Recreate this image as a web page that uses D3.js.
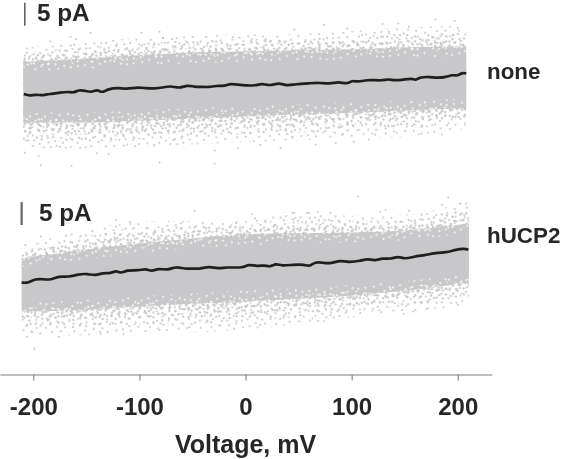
<!DOCTYPE html>
<html><head><meta charset="utf-8">
<script src="https://cdn.jsdelivr.net/npm/d3@7/dist/d3.min.js"></script>
<style>html,body{margin:0;background:#fff}svg{display:block}text{font-family:"Liberation Sans",Arial,sans-serif;font-weight:700;fill:#262626}</style>
</head><body><div id="c"></div>
<script>
// Mean current traces (voltage mV, relative current pA)
const noneV=[-209,-204,-199,-192,-187,-178,-168,-164,-159,-154,-149,-143,-140,-135,-123,-118,-103,-97,-88,-82,-73,-65,-57,-51,-43,-37,-31,-22,-18,-6,10,14,22,31,38,47,63,72,83,92,99,104,109,117,134,139,145,153,162,164,167,178,182,193,198,202,205,208];
const noneI=[-1.52,-2.1,-1.74,-2.03,-1.59,-1.37,-.94,-1.45,-.5,-.8,-1.37,-.43,-1.59,-.36,-.07,-.5,.07,-.36,-.36,-.22,.36,-.5,.5,-.07,-.07,-.22,.22,.07,.8,.22,.07,.8,-.07,.94,-.07,.43,.65,.8,.36,1.09,.22,1.38,.8,1.52,1.16,1.67,1.16,1.38,1.81,1.09,2.1,2.1,1.74,1.96,2.68,2.25,3.19,2.97];
const hucpV=[-211,-205,-199,-191,-185,-177,-168,-157,-149,-141,-135,-127,-123,-119,-115,-102,-96,-91,-85,-76,-68,-60,-52,-46,-37,-28,-20,-1,2,11,17,22,27,31,44,55,59,63,72,78,88,94,108,114,120,128,135,142,148,157,168,178,195,198,208,210];
const hucpI=[-3.62,-3.77,-2.54,-2.75,-3.04,-1.88,-2.32,-1.45,-1.38,-2.03,-1.16,-1.45,-.58,-1.59,-.51,-.8,-.22,-1.16,-.22,-.87,.22,-.58,-.43,-.72,.14,-.72,-.22,-.58,.58,-.22,.22,-.51,.58,-.22,.14,.14,-.58,.87,.43,.22,1.16,.43,.87,1.52,.72,1.59,1.16,2.03,1.09,1.81,2.17,2.75,3.04,3.62,3.91,3.55];
// Noise cloud envelopes
const noneCloudV=[-209.5,-150,-100,-50,0,50,100,150,208];
const hucpCloudV=[-211,-150,-100,-50,0,50,100,150,210.5];
const noneCoreHi=[5.5,6.2,6.9,7.5,7.7,8.0,8.2,8.6,8.8];
const noneCoreLo=[-7.7,-7.7,-7.3,-6.9,-6.4,-6.0,-5.6,-5.1,-4.7];
const noneEdgeHi=[8.5,9.8,10.7,11.2,11.4,11.6,12.2,12.9,13.5];
const noneEdgeLo=[-13.5,-13.5,-13.1,-12.5,-12,-11.6,-11.2,-10.7,-9];
const hucpCoreHi=[1.7,3.6,4.9,6.0,6.9,7.1,7.3,7.7,9.3];
const hucpCoreLo=[-9.9,-9.5,-8.8,-8.2,-7.7,-7.1,-6.4,-5.4,-3.6];
const hucpEdgeHi=[4.6,7.7,9.8,9.8,9.8,12,10.9,11.2,14.2];
const hucpEdgeLo=[-15.1,-15.1,-14.4,-14.4,-13.8,-12.7,-11.2,-10.1,-8.5];
// Isolated outlying samples
const noneOutV=[-165,-160,-146,-98,-81,-184,-136,-78,-65,-56,-31,-12,6,19,-208,-195,-193,-164,-140,-129,-81,-29,-29,-7,14,-104,-86,-175,-68,46,74,96,129,144,154,179,197,200,110,135,33,66,85,102,116,44,91,122,140,166,185,132];
const noneOutI=[10.9,10.4,11.8,11.8,12,9.9,9.5,10.6,10.6,9.9,9.9,10.8,10.4,10.4,-14.3,-15,-17,-17.2,-14.4,-14.6,-16.4,-16.7,-13.8,-13.3,-12.6,-12.8,-12.6,-13,-11.5,12.5,13.5,12.7,13.7,13.8,13.1,14.7,14.4,12.8,11.3,12,-13.3,-12.5,-12.2,-11.9,-11.4,-10.8,-10.4,-10.4,-9.7,-10.1,-10.4,-9];
const hucpOutV=[-48,6,9,-61,-109,-122,-193,-122,-37,-9,19,28,-199,-176,-206,-201,-137,-115,-81,-53,-25,14,-9,-36,106,191,202,208,185,80,46,60,68,127,132,154,63,74,80,38,149,158,200,172,126];
const hucpOutI=[12,11.3,10.4,9.3,9.6,10,6.4,8.6,8.2,9.3,9.6,8.9,-18,-15.4,-15.4,-14.3,-14.3,-14.8,-13.9,-13.3,-12.8,-12.8,-12.5,-12.1,15.1,14.9,13.6,13.6,13.3,11.6,11.6,11.6,11.8,11.8,12.2,12,-11.4,-12,-10.7,-10.3,-10.4,-9.9,-8.5,-9.2,-9.6];
const xTicks=[-200,-100,0,100,200];

const W=561,H=459,GRAY="#c8c8ca";
const svg=d3.select("#c").append("svg").attr("width",W).attr("height",H).style("filter","blur(0.35px)");
const x=d3.scaleLinear().domain([-231.4,232]).range([0,491.7]);
const yNone=d3.scaleLinear().domain([-10,10]).range([133,41]);
const yHucp=d3.scaleLinear().domain([-10,10]).range([312,220]);

// stipple texture for the speckled fringe (purely a fill style, not data)
const tile=[[2,3],[9,1],[15,6],[23,2],[31,5],[37,1],[5,10],[12,12],[20,9],[27,11],[35,9],[1,16],[8,18],[17,15],[24,17],[32,14],[38,18],[4,23],[13,22],[21,24],[29,21],[36,24],[7,28],[16,29],[25,27],[33,29],[2,31],[11,34],[19,33],[28,35],[37,33],[5,37],[14,38],[23,37],[31,39]];
const defs=svg.append("defs");
function stipple(id,tf,color,r){
  const p=defs.append("pattern").attr("id",id).attr("patternUnits","userSpaceOnUse").attr("width",40).attr("height",40).attr("patternTransform",tf);
  p.selectAll("circle").data(tile).join("circle").attr("cx",d=>d[0]).attr("cy",d=>d[1]).attr("r",r).attr("fill",color);
}
stipple("s1","rotate(17) translate(3,5)",GRAY,1.05);
stipple("s2","rotate(-31) translate(13,22)",GRAY,1.15);
stipple("s3","rotate(58) translate(26,9)",GRAY,1.2);
stipple("s4","rotate(-74) translate(8,31)",GRAY,1.2);
stipple("s5","rotate(101) translate(19,2)",GRAY,1.25);
stipple("w1","rotate(37) translate(6,17)","#fff",0.9);
stipple("w2","rotate(-53) translate(21,4)","#fff",1.0);

function panel(y,cloudV,traceV,traceI,coreHi,coreLo,edgeHi,edgeLo,outV,outI){
  const g=svg.append("g");
  const area=(hi,lo)=>d3.area().x((d,i)=>x(cloudV[i])).y0((d,i)=>y(lo[i])).y1((d,i)=>y(hi[i])).curve(d3.curveMonotoneX)(cloudV);
  const mix=(a,b,t)=>a.map((d,i)=>d+(b[i]-d)*t);
  const band=(t,fill)=>g.append("path").attr("d",area(mix(edgeHi,coreHi,t),mix(edgeLo,coreLo,t))).attr("fill",fill);
  band(0,"url(#s1)");
  band(.3,"url(#s2)");
  band(.55,"url(#s3)");
  band(.75,"url(#s4)");
  band(.9,"url(#s5)");
  g.append("path").attr("d",area(coreHi,coreLo)).attr("fill",GRAY);
  // white gaps near the rim of the dense core
  const inHi=mix(coreHi,coreLo,.16), inLo=mix(coreLo,coreHi,.16);
  g.append("path").attr("d",area(coreHi,inHi)).attr("fill","url(#w1)");
  g.append("path").attr("d",area(inLo,coreLo)).attr("fill","url(#w1)");
  const in2Hi=mix(coreHi,coreLo,.07), in2Lo=mix(coreLo,coreHi,.07);
  g.append("path").attr("d",area(coreHi,in2Hi)).attr("fill","url(#w2)");
  g.append("path").attr("d",area(in2Lo,coreLo)).attr("fill","url(#w2)");
  g.selectAll("circle.o").data(outV).join("circle").attr("class","o").attr("cx",d=>x(d)).attr("cy",(d,i)=>y(outI[i])).attr("r",1).attr("fill",GRAY);
  const line=d3.line().x(d=>x(d)).y((d,i)=>y(traceI[i])).curve(d3.curveBundle.beta(0.75));
  g.append("path").attr("d",line(traceV)).attr("fill","none").attr("stroke","#1f1f1f").attr("stroke-width",2.7).attr("stroke-linejoin","round");
}
panel(yNone,noneCloudV,noneV,noneI,noneCoreHi,noneCoreLo,noneEdgeHi,noneEdgeLo,noneOutV,noneOutI);
panel(yHucp,hucpCloudV,hucpV,hucpI,hucpCoreHi,hucpCoreLo,hucpEdgeHi,hucpEdgeLo,hucpOutV,hucpOutI);

// scale bars (5 pA)
svg.append("line").attr("x1",x(-208)).attr("x2",x(-208)).attr("y1",yNone(13.3)).attr("y2",yNone(18.3)).attr("stroke","#333").attr("stroke-width",1.2);
svg.append("line").attr("x1",x(-211)).attr("x2",x(-211)).attr("y1",yHucp(8.9)).attr("y2",yHucp(13.9)).attr("stroke","#666").attr("stroke-width",2.2);
svg.append("text").attr("x",37).attr("y",21).attr("font-size",24.3).text("5 pA");
svg.append("text").attr("x",39).attr("y",221).attr("font-size",24.3).text("5 pA");
svg.append("text").attr("x",487).attr("y",79).attr("font-size",22.4).text("none");
svg.append("text").attr("x",487).attr("y",243).attr("font-size",22.4).text("hUCP2");

// axis
const ax=svg.append("g").attr("transform","translate(0,374.5)")
  .call(d3.axisBottom(x).tickValues(xTicks).tickSize(6).tickSizeOuter(0).tickFormat(d=>String(d)));
ax.select(".domain").attr("stroke","#a8a8a8").attr("stroke-width",1.4);
ax.selectAll(".tick line").attr("stroke","#8a8a8a").attr("stroke-width",1.2);
ax.selectAll(".tick text").attr("font-size",24).attr("y",23.3).attr("dy","0.71em").style("fill","#262626").attr("font-family",null);
svg.append("text").attr("x",x(0)).attr("y",453).attr("text-anchor","middle").attr("font-size",25).text("Voltage, mV");
</script></body></html>
